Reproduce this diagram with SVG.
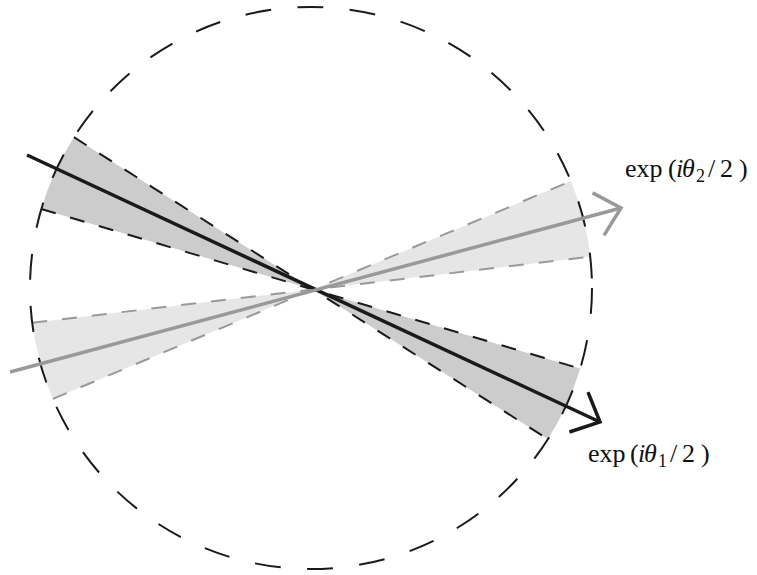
<svg xmlns="http://www.w3.org/2000/svg" width="757" height="575" viewBox="0 0 757 575">
<style>
.fillD{fill:#cccccc;stroke:none}
.fillL{fill:#e6e6e6;stroke:none}
.edgeD{stroke:#1a1a1a;stroke-width:2;stroke-dasharray:15 15;fill:none}
.edgeL{stroke:#999999;stroke-width:2;stroke-dasharray:15 15;fill:none}
.circ{fill:none;stroke:#1a1a1a;stroke-width:2;stroke-dasharray:26 26.4}
.vecD{stroke:#1a1a1a;stroke-width:3.5;fill:none}
.vecL{stroke:#999999;stroke-width:3.5;fill:none}
.lbl{font-family:"Liberation Serif","Times New Roman",serif;font-size:26px;fill:#111}
.it{font-style:italic}
.sub{font-size:18px}
</style>
<defs>
<marker id="arrD" markerUnits="userSpaceOnUse" orient="auto" refX="0" refY="0" markerWidth="60" markerHeight="60" overflow="visible">
<path d="M-23.5,-22 L0,0 L-23.5,22" fill="none" stroke="#1a1a1a" stroke-width="3.5" stroke-linejoin="miter"/>
</marker>
<marker id="arrL" markerUnits="userSpaceOnUse" orient="auto" refX="0" refY="0" markerWidth="60" markerHeight="60" overflow="visible">
<path d="M-23.5,-22 L0,0 L-23.5,22" fill="none" stroke="#999999" stroke-width="3.5" stroke-linejoin="miter"/>
</marker>
</defs>

<g id="wedge-dark">
<path class="fillD" d="M313,289.5 L580.2,368.6 A281,281 0 0 1 547.9,439.1 Z M313,289.5 L41.3,209.0 A281,281 0 0 1 73.9,137.2 Z"/>
</g>
<g id="wedge-light">
<path class="fillL" d="M313,289.5 L570.9,181.1 A281,281 0 0 1 590.3,256.7 Z M313,289.5 L52.8,398.9 A281,281 0 0 1 32.2,322.7 Z"/>
</g>
<g id="wedge-edges">
<line class="edgeD" x1="73.9" y1="137.2" x2="547.9" y2="439.1"/>
<line class="edgeD" x1="41.3" y1="209.0" x2="580.2" y2="368.6"/>
<line class="edgeL" x1="32.2" y1="322.7" x2="590.3" y2="256.7"/>
<line class="edgeL" x1="52.8" y1="398.9" x2="570.9" y2="181.1"/>
</g>
<g id="circle">
<circle class="circ" cx="311" cy="288" r="281"/>
</g>
<g id="connectors">
<line class="vecD" x1="27" y1="155" x2="600" y2="422" marker-end="url(#arrD)"/>
<line class="vecL" x1="10" y1="372" x2="621" y2="208" marker-end="url(#arrL)"/>
</g>
<g id="label-theta2">
<text class="lbl" y="177"><tspan x="625">exp</tspan><tspan x="668">(</tspan><tspan x="676" class="it">i</tspan><tspan x="682" class="it">θ</tspan><tspan x="696" class="sub" dy="5">2</tspan><tspan x="708" dy="-5">/</tspan><tspan x="720">2</tspan><tspan x="739">)</tspan></text>
</g>
<g id="label-theta1">
<text class="lbl" y="462"><tspan x="588">exp</tspan><tspan x="630">(</tspan><tspan x="638" class="it">i</tspan><tspan x="644" class="it">θ</tspan><tspan x="658" class="sub" dy="5">1</tspan><tspan x="670" dy="-5">/</tspan><tspan x="682">2</tspan><tspan x="701">)</tspan></text>
</g>
</svg>
